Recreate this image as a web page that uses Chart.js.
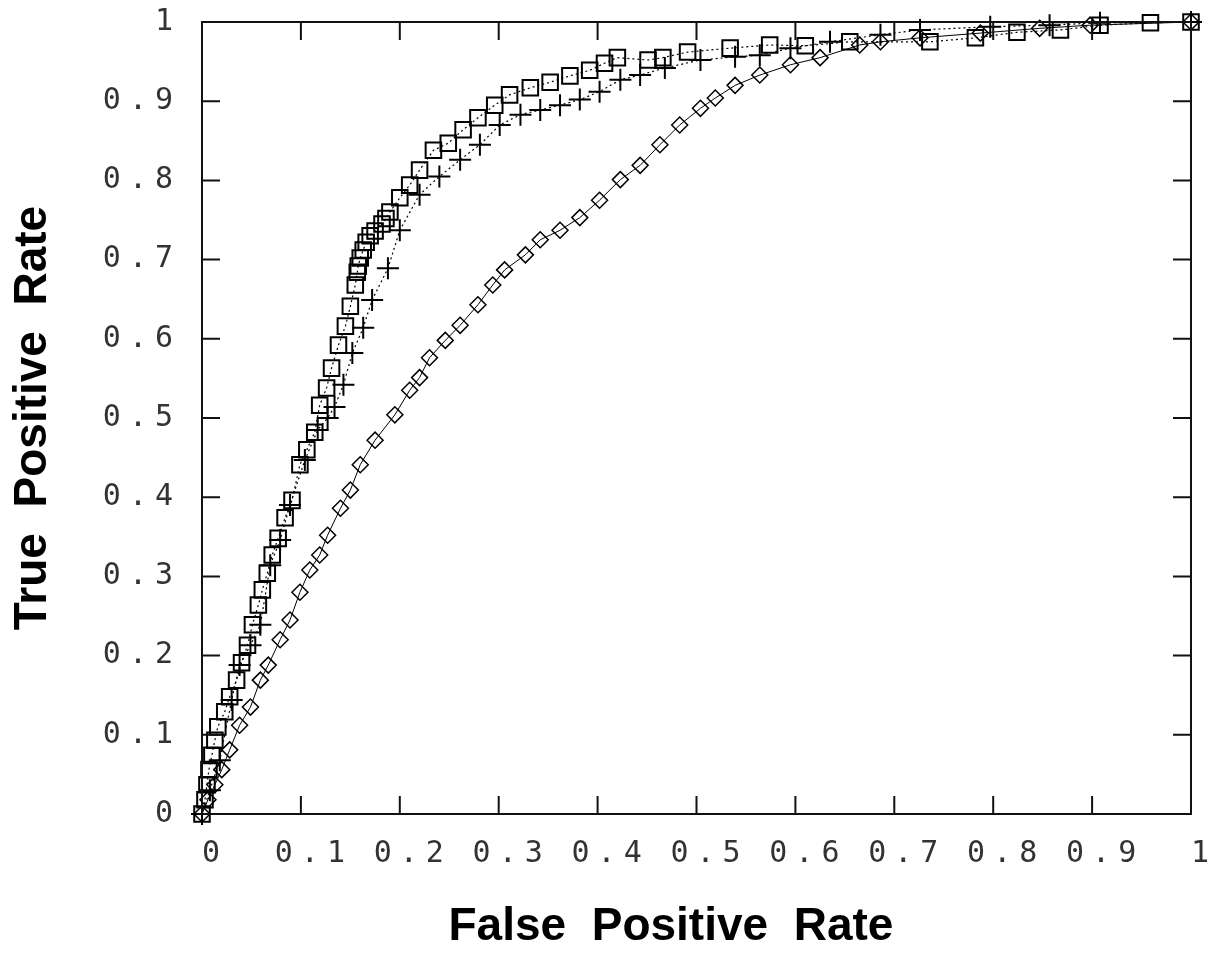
<!DOCTYPE html>
<html>
<head>
<meta charset="utf-8">
<script src="https://cdn.jsdelivr.net/npm/chart.js@4.4.1/dist/chart.umd.min.js"></script>
<style>
  html, body { margin: 0; padding: 0; background: #fff; }
  #wrap { width: 1216px; height: 955px; }
</style>
</head>
<body>
<div id="wrap"><canvas id="roc_chart"></canvas></div>
<script>
// curva 1 - cuadrados
const fprSquares = [0, 0.003, 0.005, 0.007, 0.010, 0.013, 0.016, 0.023, 0.028, 0.035, 0.040, 0.046, 0.051, 0.057,
    0.061, 0.066, 0.071, 0.077, 0.084, 0.091, 0.099, 0.106, 0.114, 0.119, 0.126, 0.131, 0.138, 0.145, 0.150,
    0.155, 0.157, 0.158, 0.160, 0.163, 0.166, 0.170, 0.175, 0.182, 0.186, 0.190, 0.200, 0.210, 0.220, 0.234,
    0.249, 0.264, 0.279, 0.296, 0.311, 0.332, 0.352, 0.372, 0.392, 0.407, 0.420, 0.451, 0.466, 0.491, 0.534,
    0.574, 0.610, 0.655, 0.736, 0.782, 0.824, 0.868, 0.908, 0.959, 1];
const tprSquares = [0, 0.018, 0.037, 0.056, 0.074, 0.093, 0.110, 0.129, 0.148, 0.169, 0.191, 0.213, 0.239, 0.264,
    0.283, 0.304, 0.327, 0.348, 0.374, 0.396, 0.441, 0.460, 0.482, 0.516, 0.538, 0.563, 0.592, 0.616, 0.641,
    0.668, 0.684, 0.692, 0.702, 0.712, 0.722, 0.730, 0.736, 0.745, 0.752, 0.760, 0.778, 0.794, 0.813, 0.838,
    0.847, 0.864, 0.879, 0.895, 0.908, 0.917, 0.924, 0.932, 0.939, 0.948, 0.955, 0.952, 0.955, 0.962, 0.967,
    0.971, 0.970, 0.975, 0.975, 0.980, 0.987, 0.990, 0.996, 0.999, 1];

// curva 2 - cruces
const fprCross = [0, 0.008, 0.018, 0.030, 0.038, 0.049, 0.059, 0.069, 0.079, 0.089, 0.104, 0.117, 0.127, 0.134,
    0.143, 0.152, 0.163, 0.172, 0.188, 0.200, 0.220, 0.240, 0.261, 0.281, 0.301, 0.322, 0.342, 0.362, 0.382,
    0.402, 0.423, 0.443, 0.468, 0.504, 0.539, 0.564, 0.595, 0.635, 0.686, 0.726, 0.797, 0.857, 0.908, 1];
const tprCross = [0, 0.030, 0.068, 0.144, 0.188, 0.213, 0.239, 0.314, 0.346, 0.390, 0.447, 0.485, 0.500, 0.514,
    0.542, 0.582, 0.614, 0.649, 0.689, 0.737, 0.782, 0.805, 0.826, 0.845, 0.870, 0.883, 0.889, 0.895, 0.902,
    0.912, 0.927, 0.933, 0.942, 0.952, 0.956, 0.958, 0.967, 0.975, 0.984, 0.990, 0.994, 0.996, 0.999, 1];

// curva 3 - rombos
const fprDiamonds = [0, 0.006, 0.013, 0.020, 0.028, 0.038, 0.049, 0.059, 0.067, 0.079, 0.089, 0.099, 0.109,
    0.119, 0.127, 0.140, 0.150, 0.160, 0.175, 0.195, 0.210, 0.220, 0.230, 0.246, 0.261, 0.279, 0.294, 0.306,
    0.327, 0.342, 0.362, 0.382, 0.402, 0.423, 0.443, 0.463, 0.483, 0.504, 0.519, 0.539, 0.564, 0.595, 0.625,
    0.665, 0.686, 0.726, 0.787, 0.847, 0.898, 1];
const tprDiamonds = [0, 0.018, 0.037, 0.056, 0.081, 0.112, 0.135, 0.169, 0.188, 0.220, 0.245, 0.280, 0.308,
    0.327, 0.352, 0.386, 0.409, 0.441, 0.472, 0.504, 0.535, 0.551, 0.576, 0.598, 0.617, 0.643, 0.668, 0.687,
    0.706, 0.725, 0.737, 0.753, 0.775, 0.801, 0.819, 0.845, 0.870, 0.891, 0.904, 0.920, 0.933, 0.946, 0.955,
    0.971, 0.975, 0.980, 0.986, 0.992, 0.996, 1];

const xTitle = 'False  Positive  Rate    ';
const yTitle = 'True  Positive  Rate';

function toPoints(xs, ys) {
    let pts = [];
    for (let i = 0; i < xs.length; i++) {
        pts.push({ x: xs[i], y: ys[i] });
    }
    return pts;
}

function tickLabel(value) {
    if (value === 0) return '0';
    if (value === 1) return '1';
    return value.toFixed(1);
}

// marco y marcas hacia dentro en los 4 lados
const framePlugin = {
    id: 'frame',
    afterDatasetsDraw(chart) {
        chart.ctx.letterSpacing = '8px';
    },
    afterDraw(chart) {
        const ctx = chart.ctx;
        const a = chart.chartArea;
        const xs = chart.scales.x;
        const ys = chart.scales.y;
        const len = 18;
        ctx.save();
        ctx.letterSpacing = '0px';
        ctx.strokeStyle = '#111';
        ctx.lineWidth = 2;
        ctx.strokeRect(a.left, a.top, a.right - a.left, a.bottom - a.top);
        ctx.beginPath();
        xs.ticks.forEach(t => {
            const px = xs.getPixelForValue(t.value);
            ctx.moveTo(px, a.bottom); ctx.lineTo(px, a.bottom - len);
            ctx.moveTo(px, a.top); ctx.lineTo(px, a.top + len);
        });
        ys.ticks.forEach(t => {
            const py = ys.getPixelForValue(t.value);
            ctx.moveTo(a.left, py); ctx.lineTo(a.left + len, py);
            ctx.moveTo(a.right, py); ctx.lineTo(a.right - len, py);
        });
        ctx.stroke();
        ctx.restore();
        ctx.letterSpacing = '0px';
    }
};

var config = {
    type: 'scatter',
    data: {
        datasets: [{
            label: 'squares',
            data: toPoints(fprSquares, tprSquares),
            showLine: true,
            clip: false,
            borderColor: '#000',
            borderWidth: 1.2,
            borderDash: [2, 3],
            backgroundColor: 'rgba(0,0,0,0)',
            pointStyle: 'rect',
            pointRadius: 11,
            pointBorderWidth: 2,
            pointBorderColor: '#000',
            pointBackgroundColor: 'rgba(0,0,0,0)'
        }, {
            label: 'cross',
            data: toPoints(fprCross, tprCross),
            showLine: true,
            clip: false,
            borderColor: '#000',
            borderWidth: 1.2,
            borderDash: [2, 3],
            pointStyle: 'cross',
            pointRadius: 11,
            pointBorderWidth: 2,
            pointBorderColor: '#000'
        }, {
            label: 'diamonds',
            data: toPoints(fprDiamonds, tprDiamonds),
            showLine: true,
            clip: false,
            borderColor: '#000',
            borderWidth: 1,
            backgroundColor: 'rgba(0,0,0,0)',
            pointStyle: 'rectRot',
            pointRadius: 8,
            pointBorderWidth: 1.5,
            pointBorderColor: '#000',
            pointBackgroundColor: 'rgba(0,0,0,0)'
        }]
    },
    options: {
        responsive: true,
        maintainAspectRatio: false,
        animation: false,
        layout: { padding: { top: 22, right: 25, left: 0, bottom: 0 } },
        plugins: {
            legend: { display: false },
            tooltip: { enabled: false }
        },
        scales: {
            x: {
                type: 'linear',
                min: 0,
                max: 1,
                afterFit(scale) {
                    scale.height = 141;
                    scale.paddingLeft = 0;
                    scale.paddingRight = 0;
                },
                grid: { display: false },
                border: { display: false },
                ticks: {
                    stepSize: 0.1,
                    z: 1,
                    maxRotation: 0,
                    autoSkip: false,
                    labelOffset: 13,
                    padding: 14,
                    color: '#333',
                    font: { family: 'DejaVu Sans Mono', size: 30 },
                    callback: tickLabel
                },
                title: {
                    display: true,
                    text: xTitle,
                    color: '#000',
                    padding: { top: 0, bottom: 0 },
                    font: { family: 'Liberation Sans', size: 46, weight: 'bold' }
                }
            },
            y: {
                type: 'linear',
                min: 0,
                max: 1,
                afterFit(scale) {
                    scale.width = 202;
                    scale.paddingTop = 0;
                    scale.paddingBottom = 0;
                },
                grid: { display: false },
                border: { display: false },
                ticks: {
                    stepSize: 0.1,
                    z: 1,
                    autoSkip: false,
                    padding: 13,
                    color: '#333',
                    font: { family: 'DejaVu Sans Mono', size: 30 },
                    callback: tickLabel
                },
                title: {
                    display: true,
                    text: yTitle,
                    color: '#000',
                    padding: { top: 6, bottom: 0 },
                    font: { family: 'Liberation Sans', size: 46, weight: 'bold' }
                }
            }
        }
    },
    plugins: [framePlugin]
};

new Chart(document.getElementById('roc_chart').getContext('2d'), config);
</script>
</body>
</html>
